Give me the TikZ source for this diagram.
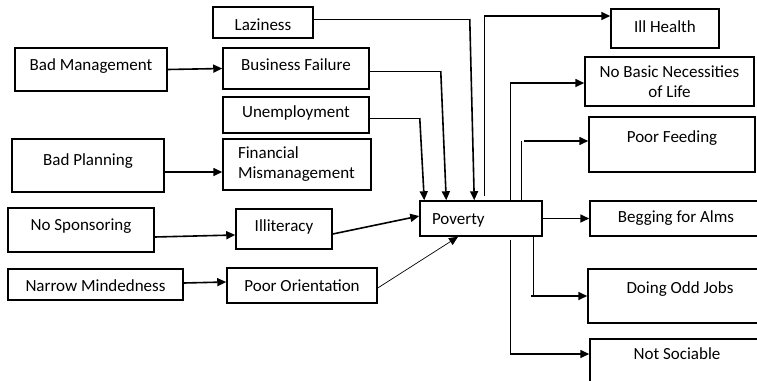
\documentclass[tikz,border=0pt]{standalone}
\usepackage{fontspec}
\setmainfont{Carlito}
\usetikzlibrary{arrows.meta,calc}
\tikzset{
  box/.style={draw, line width=1.5pt, inner sep=0pt, align=center,
    font=\fontsize{17}{20}\selectfont},
  % place a box by its top-left and bottom-right corners (y grows downwards)
  corners/.style args={#1/#2/#3/#4}{at={({(#1+#3)/2},{(#2+#4)/2})},
    minimum width={(#3-#1)*1pt}, minimum height={(#4-#2)*1pt}},
  % move a single text line down (positive) or up (negative) inside its box
  base/.style={text height={12pt+(#1)*1pt}, text depth={4pt-(#1)*1pt}},
  base/.default=0,
  feed/.style={line width=0.7pt},
  push/.style={line width=1.6pt, -{Triangle[length=9pt,width=8pt]}},
  thinpush/.style={line width=0.7pt, -{Triangle[length=9pt,width=8pt]}},
}
\begin{document}
\begin{tikzpicture}[x=1pt,y=-1pt]
\clip (0,0) rectangle (757,380);

% causes
\node[box, corners=213/7/313/38,   base=4.5]  (laz) {Laziness};
\node[box, corners=15/48/167/91,   base=-3.5] (bm)  {Bad Management};
\node[box, corners=223/48/369/89,  base=-2.5] (bf)  {Business Failure};
\node[box, corners=223/97/369/133, base=-2]   (un)  {Unemployment};
\node[box, corners=12/139/164/192, base=-4.5] (bp)  {Bad Planning};
\node[box, corners=223/139/371/190, align=left, text width=118pt, inner xsep=15pt] (fm) {Financial\\Mismanagement};
\node[box, corners=8/208/154/252,  base=-4]   (ns)  {No Sponsoring};
\node[box, corners=236/209/332/249, base=-2]  (il)  {Illiteracy};
\node[box, corners=8/269/183/300,  base=2.5]  (nm)  {Narrow Mindedness};
\node[box, corners=227/268/377/303, base=1.5] (po)  {Poor Orientation};

% central problem
\node[box, corners=420/201/542/236, base=1.5, align=left, text width=98pt, inner xsep=12pt] (pov) {Poverty};

% effects
\node[box, corners=611/9/719/48,    base=-0.5] (ih) {Ill Health};
\node[box, corners=585/57/754/106] (nb) {No Basic Necessities\\of Life};
\node[box, corners=589/117/755/172, base=-6.5] (pf) {Poor Feeding};
\node[box, corners=590/201/762/236, base=-0.5] (ba) {Begging for Alms};
\node[box, corners=588/269/772/323, base=-7]   (dj) {Doing Odd Jobs};
\node[box, corners=590/339/764/395, base=-12]  (so) {Not Sociable};

% root causes to intermediate causes
\draw[push] (bm.east) -- (bf.west);
\draw[push] ([yshift=-6.5pt]bp.east) -- ([yshift=-7.5pt]fm.west);
\draw[push] ([yshift=-7pt]ns.east) -- ([yshift=-6pt]il.west);
\draw[push] ([yshift=1.5pt]nm.east) -- ([yshift=3.5pt]po.west);

% causes into poverty
\draw[push] ([yshift=-5pt]il.east) -- ([yshift=2.5pt]pov.west);
\draw[thinpush] ([yshift=-2.5pt]po.east) -- ([xshift=-23pt]pov.south);
\draw[feed] ([yshift=3.5pt]laz.east) -- ++(156,0) coordinate (laz-k);
\draw[push] (laz-k) -- ($(pov.north west)+(55,0)$);
\draw[feed] ([yshift=-2.5pt]bf.east) -- ++(71,0) coordinate (bf-k);
\draw[push] (bf-k) -- ($(pov.north west)+(27,0)$);
\draw[feed] ([yshift=-3pt]un.east) -- ++(50,0) coordinate (un-k);
\draw[push] (un-k) -- ($(pov.north west)+(5,0)$);

% poverty to its effects
\path ($(pov.north west)+(65,-4)$) coordinate (pov-ih)
      ([yshift=12.5pt]ih.west) coordinate (ih-in)
      ($(pov.north west)+(91,0)$) coordinate (pov-nb)
      ([yshift=-1.5pt]nb.west) coordinate (nb-in)
      ($(pov.north west)+(102,0)$) coordinate (pov-pf)
      ([yshift=3.5pt]pf.west) coordinate (pf-in)
      ($(pov.south west)+(114,0)$) coordinate (pov-dj)
      ($(pov.south west)+(91,3)$) coordinate (pov-so)
      ([yshift=13pt]so.west) coordinate (so-in);

\draw[feed] (pov-ih) -- (pov-ih |- ih-in) coordinate (ih-k);
\draw[push] (ih-k) -- (ih-in);
\draw[feed] (pov-nb) -- (pov-nb |- nb-in) coordinate (nb-k);
\draw[push] (nb-k) -- (nb-in);
\draw[feed] (pov-pf) -- (pov-pf |- pf-in) coordinate (pf-k);
\draw[push] ([xshift=3pt]pf-k) -- (pf-in);
\draw[push] (pov.east) -- (pov.east -| ba.west);
\draw[feed] (pov-dj) -- (pov-dj |- dj.west) coordinate (dj-k);
\draw[push] ([xshift=-2pt]dj-k) -- (dj.west);
\draw[feed] (pov-so) -- (pov-so |- so-in) coordinate (so-k);
\draw[push] (so-k) -- (so-in);
\end{tikzpicture}
\end{document}
